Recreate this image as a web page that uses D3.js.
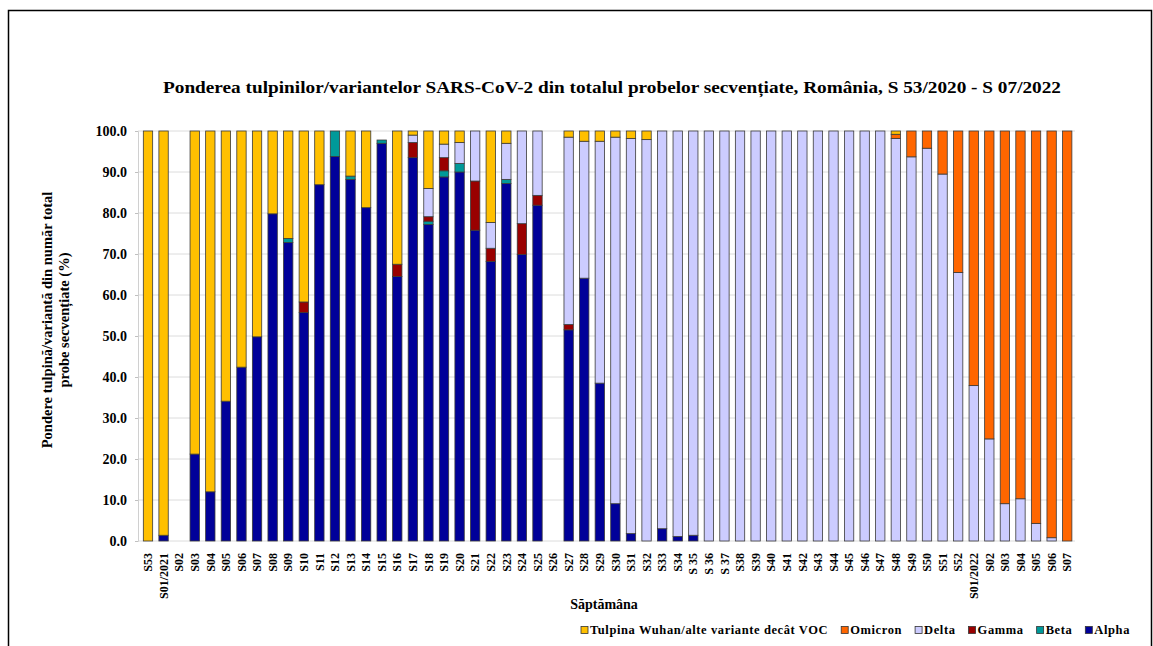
<!DOCTYPE html>
<html>
<head>
<meta charset="utf-8">
<script src="https://cdn.jsdelivr.net/npm/d3@7"></script>
<style>
  body { margin: 0; background: #fff; }
  text { font-family: "Liberation Serif", "Times New Roman", serif; font-weight: bold; fill: #000; }
</style>
</head>
<body>
<script>
var weeks = ["S53", "S01/2021", "S02", "S03", "S04", "S05", "S06", "S07", "S08", "S09",
    "S10", "S11", "S12", "S13", "S14", "S15", "S16", "S17", "S18", "S19",
    "S20", "S21", "S22", "S23", "S24", "S25", "S26", "S27", "S28", "S29",
    "S30", "S31", "S32", "S33", "S34", "S 35", "S 36", "S 37", "S38", "S39",
    "S40", "S41", "S42", "S43", "S44", "S45", "S46", "S47", "S48", "S49",
    "S50", "S51", "S52", "S01/2022", "S02", "S03", "S04", "S05", "S06", "S07"];

var alpha = [0, 1.4, 0, 21.2, 12.0, 34.1, 42.4, 49.8, 79.8, 72.8,
    55.7, 86.9, 93.8, 88.2, 81.3, 97.0, 64.5, 93.5, 77.2, 88.8,
    90.0, 75.8, 68.2, 87.2, 69.9, 81.9, 0, 51.5, 64.1, 38.5,
    9.1, 1.8, 0, 3.0, 1.1, 1.4, 0, 0, 0, 0,
    0, 0, 0, 0, 0, 0, 0, 0, 0, 0,
    0, 0, 0, 0, 0, 0, 0, 0, 0, 0];
var beta = [0, 0, 0, 0, 0, 0, 0, 0, 0, 1.0,
    0, 0, 6.2, 0.8, 0, 0.8, 0, 0, 0.8, 1.5,
    2.1, 0, 0, 1.0, 0, 0, 0, 0, 0, 0,
    0, 0, 0, 0, 0, 0, 0, 0, 0, 0,
    0, 0, 0, 0, 0, 0, 0, 0, 0, 0,
    0, 0, 0, 0, 0, 0, 0, 0, 0, 0];
var gamma = [0, 0, 0, 0, 0, 0, 0, 0, 0, 0,
    2.6, 0, 0, 0, 0, 0, 3.0, 3.7, 1.1, 3.2,
    0, 12.0, 3.2, 0, 7.5, 2.4, 0, 1.3, 0, 0,
    0, 0, 0, 0, 0, 0, 0, 0, 0, 0,
    0, 0, 0, 0, 0, 0, 0, 0, 0, 0,
    0, 0, 0, 0, 0, 0, 0, 0, 0, 0];
var delta = [0, 0, 0, 0, 0, 0, 0, 0, 0, 0,
    0, 0, 0, 0, 0, 0, 0, 1.8, 6.9, 3.3,
    5.1, 12.2, 6.3, 8.8, 22.6, 15.7, 0, 45.7, 33.4, 59.0,
    89.4, 96.4, 97.9, 97.0, 98.9, 98.6, 100, 100, 100, 100,
    100, 100, 100, 100, 100, 100, 100, 100, 98.2, 93.7,
    95.8, 89.5, 65.5, 37.9, 24.9, 9.1, 10.3, 4.3, 0.8, 0];
var omicron = [0, 0, 0, 0, 0, 0, 0, 0, 0, 0,
    0, 0, 0, 0, 0, 0, 0, 0, 0, 0,
    0, 0, 0, 0, 0, 0, 0, 0, 0, 0,
    0, 0, 0, 0, 0, 0, 0, 0, 0, 0,
    0, 0, 0, 0, 0, 0, 0, 0, 1.0, 6.3,
    4.2, 10.5, 34.5, 62.1, 75.1, 90.9, 89.7, 95.7, 99.2, 100];
var wuhan = [100, 98.6, 0, 78.8, 88.0, 65.9, 57.6, 50.2, 20.2, 26.2,
    41.7, 13.1, 0, 11.0, 18.7, 0, 32.5, 1.0, 14.0, 3.2,
    2.8, 0, 22.3, 3.0, 0, 0, 0, 1.5, 2.5, 2.5,
    1.5, 1.8, 2.1, 0, 0, 0, 0, 0, 0, 0,
    0, 0, 0, 0, 0, 0, 0, 0, 0.8, 0,
    0, 0, 0, 0, 0, 0, 0, 0, 0, 0];

var yTicks = [0, 10, 20, 30, 40, 50, 60, 70, 80, 90, 100];

// stack order bottom -> top
var series = [
    {key: "Alpha", values: alpha, color: "#000099"},
    {key: "Beta", values: beta, color: "#009999"},
    {key: "Gamma", values: gamma, color: "#990000"},
    {key: "Delta", values: delta, color: "#ccccff"},
    {key: "Omicron", values: omicron, color: "#ff6600"},
    {key: "Tulpina Wuhan/alte variante decât VOC", values: wuhan, color: "#ffc000"}
];

var w = 1153, h = 646;
var svg = d3.select("body").append("svg")
    .attr("width", w)
    .attr("height", h);

// outer frame
svg.append("path")
    .attr("d", "M8.5,660 V10.5 H1151.5 V660")
    .attr("fill", "none")
    .attr("stroke", "#000")
    .attr("stroke-width", 1.5);

var x = d3.scaleBand()
    .domain(d3.range(weeks.length))
    .range([140.2, 1075])
    .paddingInner(0.4)
    .paddingOuter(0.2);

var y = d3.scaleLinear()
    .domain([0, 100])
    .range([541, 131]);

// gridlines
svg.append("g").selectAll("line")
    .data(yTicks)
    .enter().append("line")
    .attr("x1", 138).attr("x2", 1075)
    .attr("y1", function (d) { return y(d); })
    .attr("y2", function (d) { return y(d); })
    .attr("stroke", "#dcdcdc")
    .attr("stroke-width", 1);

var yAxis = svg.append("g")
    .attr("transform", "translate(138,0)")
    .call(d3.axisLeft(y).tickValues(yTicks).tickFormat(d3.format(".1f")).tickSize(3).tickPadding(8));
yAxis.select(".domain").attr("stroke", "#d0d0d0");
yAxis.selectAll(".tick line").attr("stroke", "#c0c0c0");
yAxis.selectAll("text").style("font-size", "14px");

// stacked bars
var rows = weeks.map(function (wk, i) {
    var r = {i: i};
    series.forEach(function (s) { r[s.key] = s.values[i]; });
    return r;
});
var stack = d3.stack().keys(series.map(function (s) { return s.key; }));
var layers = stack(rows);

svg.append("g").selectAll("g")
    .data(layers)
    .enter().append("g")
    .attr("fill", function (d, i) { return series[i].color; })
    .selectAll("rect")
    .data(function (d) { return d.filter(function (p) { return p[1] - p[0] > 0; }); })
    .enter().append("rect")
    .attr("x", function (d) { return x(d.data.i); })
    .attr("width", x.bandwidth())
    .attr("y", function (d) { return y(d[1]); })
    .attr("height", function (d) { return y(d[0]) - y(d[1]); })
    .attr("stroke", "#3a3a3a")
    .attr("stroke-width", 0.8);

// x labels
var xAxis = svg.append("g")
    .attr("transform", "translate(0,541)")
    .call(d3.axisBottom(x).tickSize(0).tickFormat(function (i) { return weeks[i]; }));
xAxis.select(".domain").remove();
xAxis.selectAll("text")
    .attr("transform", "rotate(-90)")
    .attr("x", -12)
    .attr("y", 0)
    .attr("dy", "0.35em")
    .style("text-anchor", "end")
    .style("font-size", "12px");

// title
svg.append("text")
    .attr("x", 612).attr("y", 93)
    .attr("text-anchor", "middle")
    .attr("textLength", 898)
    .attr("lengthAdjust", "spacingAndGlyphs")
    .style("font-size", "17px")
    .text("Ponderea tulpinilor/variantelor SARS-CoV-2 din totalul probelor secvențiate, România, S 53/2020 - S 07/2022");

// y title
var yt = svg.append("text")
    .attr("transform", "translate(52,320) rotate(-90)")
    .attr("text-anchor", "middle")
    .style("font-size", "14.5px");
yt.append("tspan").attr("x", 0).attr("dy", 0).text("Pondere tulpină/variantă  din număr total");
yt.append("tspan").attr("x", 0).attr("dy", 17).text("probe secvențiate (%)");

// x title
svg.append("text")
    .attr("x", 604).attr("y", 609)
    .attr("text-anchor", "middle")
    .style("font-size", "14px")
    .text("Săptămâna");

// legend, reverse of stack order
var legend = svg.append("g").attr("transform", "translate(581,634)");
var lx = 0;
series.slice().reverse().forEach(function (s) {
    var g = legend.append("g").attr("transform", "translate(" + lx + ",0)");
    g.append("rect")
        .attr("x", 0).attr("y", -7.5)
        .attr("width", 7).attr("height", 7)
        .attr("fill", s.color)
        .attr("stroke", "#333")
        .attr("stroke-width", 0.8);
    var t = g.append("text")
        .attr("x", 9).attr("y", 0)
        .style("font-size", "12.5px")
        .style("letter-spacing", "0.6px")
        .text(s.key);
    lx += 9 + t.node().getComputedTextLength() + 13;
});
</script>
</body>
</html>
